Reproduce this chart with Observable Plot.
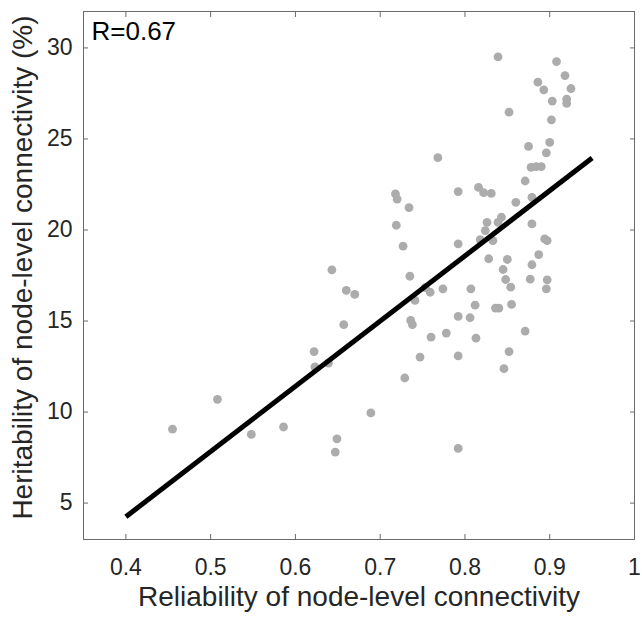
<!DOCTYPE html>
<html>
<head>
<meta charset="utf-8">
<script src="https://cdn.jsdelivr.net/npm/d3@7"></script>
<script src="https://cdn.jsdelivr.net/npm/@observablehq/plot@0.6"></script>
<style>
  html, body { margin: 0; padding: 0; background: #fff; }
  svg { display: block; }
</style>
</head>
<body>
<script>
const xTicks = [0.4, 0.5, 0.6, 0.7, 0.8, 0.9, 1];
const yTicks = [5, 10, 15, 20, 25, 30];
const xLabel = "Reliability of node-level connectivity";
const yLabel = "Heritability of node-level connectivity (%)";
const rLabel = "R=0.67";

const reliability = [
  0.839,0.908,0.918,0.886,0.893,0.925,0.903,0.920,0.920,0.852,
  0.902,0.875,0.900,0.896,0.878,0.884,0.890,0.871,0.816,0.822,
  0.831,0.860,0.879,0.843,0.839,0.826,0.879,0.824,0.894,0.897,
  0.833,0.818,0.887,0.828,0.850,0.879,0.845,0.848,0.854,0.877,
  0.897,0.896,0.807,0.812,0.836,0.840,0.855,0.806,0.871,0.813,
  0.852,0.846,0.768,0.792,0.718,0.720,0.734,0.719,0.727,0.792,
  0.643,0.735,0.660,0.670,0.774,0.753,0.759,0.741,0.657,0.792,
  0.736,0.738,0.760,0.778,0.747,0.792,0.729,0.689,0.649,0.647,
  0.792,0.622,0.623,0.639,0.455,0.508,0.548,0.586
];
const heritability = [
  29.51,29.25,28.48,28.12,27.70,27.77,27.08,27.19,26.95,26.47,
  26.05,24.59,24.81,24.24,23.44,23.48,23.48,22.69,22.34,22.05,
  22.01,21.52,21.79,20.70,20.42,20.42,20.33,19.97,19.51,19.42,
  19.42,19.47,18.65,18.42,18.38,18.09,17.83,17.28,16.86,17.30,
  17.26,16.77,16.77,15.87,15.71,15.71,15.91,15.18,14.45,14.06,
  13.32,12.38,23.97,22.11,21.98,21.70,21.23,20.26,19.11,19.24,
  17.81,17.46,16.68,16.46,16.77,16.83,16.58,16.13,14.80,15.25,
  15.03,14.80,14.12,14.34,13.02,13.08,11.87,9.95,8.53,7.80,
  8.00,13.32,12.48,12.69,9.06,10.70,8.77,9.18
];
const fitX = [0.4, 0.95];
const fitY = [4.25, 23.95];

const points = reliability.map((x, i) => ({x, y: heritability[i]}));
const fit = fitX.map((x, i) => ({x, y: fitY[i]}));

const font = "'Liberation Sans', Arial, Helvetica, sans-serif";
const axisColor = "#262626";
const frameColor = "#6a6a6a";

const chart = Plot.plot({
  width: 642,
  height: 621,
  marginLeft: 83,
  marginRight: 8,
  marginTop: 11,
  marginBottom: 82,
  style: {fontFamily: font, background: "#fff"},
  x: {domain: [0.35, 1]},
  y: {domain: [3, 32]},
  marks: [
    Plot.dot(points, {x: "x", y: "y", r: 4.4, fill: "#acacac", stroke: null}),
    Plot.line(fit, {x: "x", y: "y", stroke: "#000", strokeWidth: 5, strokeLinecap: "butt"}),
    Plot.frame({stroke: frameColor, strokeWidth: 1}),
    // inward ticks on all four sides
    Plot.axisX(xTicks, {anchor: "bottom", tickSize: 5, dy: -5, tickFormat: () => "", label: null, stroke: frameColor}),
    Plot.axisX(xTicks, {anchor: "top", tickSize: 5, dy: 5, tickFormat: () => "", label: null, stroke: frameColor}),
    Plot.axisY(yTicks, {anchor: "left", tickSize: 5, dx: 5, tickFormat: () => "", label: null, stroke: frameColor}),
    Plot.axisY(yTicks, {anchor: "right", tickSize: 5, dx: -5, tickFormat: () => "", label: null, stroke: frameColor}),
    // tick labels
    Plot.axisX(xTicks, {anchor: "bottom", tickSize: 0, tickPadding: 19, fontSize: 23, label: null, fill: axisColor, tickFormat: d => String(d)}),
    Plot.axisY(yTicks, {anchor: "left", tickSize: 0, tickPadding: 11, fontSize: 23, label: null, fill: axisColor, tickFormat: d => String(d)}),
    // axis titles
    Plot.text([xLabel], {frameAnchor: "bottom", textAnchor: "middle", lineAnchor: "bottom", dy: 66, fontSize: 28, fill: axisColor}),
    Plot.text([yLabel], {frameAnchor: "left", textAnchor: "middle", rotate: -90, dx: -60, dy: -8, fontSize: 28, fill: axisColor}),
    // correlation annotation
    Plot.text([rLabel], {frameAnchor: "top-left", textAnchor: "start", lineAnchor: "bottom", dx: 8, dy: 28, fontSize: 26, fill: "#000"})
  ]
});
document.body.appendChild(chart);
</script>
</body>
</html>
